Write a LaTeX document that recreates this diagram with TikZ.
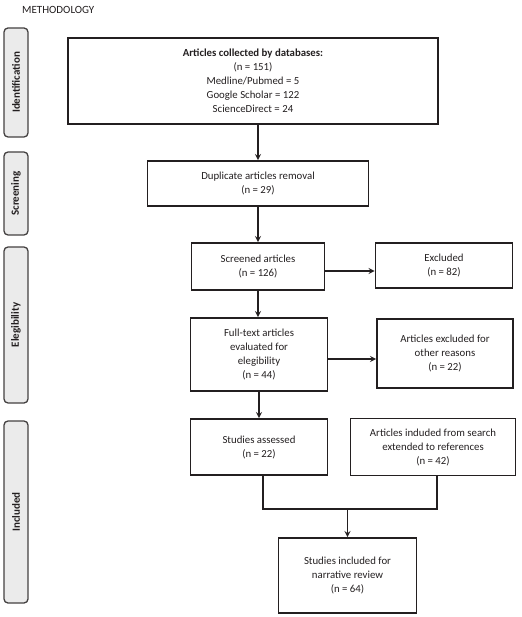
\documentclass[tikz,border=0pt]{standalone}
\usepackage{fontspec}
\setmainfont{Carlito}
\usetikzlibrary{shapes.geometric, arrows}
\definecolor{ink}{HTML}{231F20}
\definecolor{lanefill}{HTML}{EBEBEB}
\tikzstyle{lane} = [rectangle, rounded corners=4pt, rotate=90, minimum height=24pt, draw=ink!85, line width=1.3pt, fill=lanefill, font=\fontsize{11}{13}\selectfont\bfseries, text=ink]
\tikzstyle{box} = [rectangle, align=center, draw=ink, line width=1.7pt, font=\fontsize{10.8}{14}\selectfont, text=ink, inner sep=2pt]
\tikzstyle{arrow} = [line width=1.7pt, draw=ink, ->, >=stealth]
\tikzstyle{line} = [line width=1.7pt, draw=ink]

\begin{document}
\begin{tikzpicture}[node distance=88pt]
\useasboundingbox (0,0) rectangle (521pt,-617pt);
\node (title) [anchor=west, text=ink, font=\fontsize{11}{13}\selectfont, inner sep=0pt] at (22pt,-10pt) {METHODOLOGY};
% phases
\node (ident) [lane, minimum width=109pt] at (16pt,-82.5pt) {Identification};
\node (screen) [lane, minimum width=83pt] at (16pt,-193.5pt) {Screening};
\node (elig) [lane, minimum width=156pt] at (16pt,-325pt) {Elegibility};
\node (incl) [lane, minimum width=182pt] at (16pt,-512pt) {Included};
% flow
\node (start) [box, line width=2.2pt, minimum width=370pt, minimum height=86pt] at (253pt,-81pt) {\textbf{Articles collected by databases:}\\(n = 151)\\Medline/Pubmed = 5\\Google Scholar = 122\\ScienceDirect = 24};
\node (dup) [box, below of=start, node distance=102.5pt, xshift=5pt, minimum width=221pt, minimum height=45pt] {Duplicate articles removal\\(n = 29)};
\node (screened) [box, below of=dup, node distance=83pt, minimum width=133pt, minimum height=47pt] {Screened articles\\(n = 126)};
\node (excluded) [box, right of=screened, node distance=186pt, yshift=1pt, minimum width=137pt, minimum height=45pt] {Excluded\\(n = 82)};
\node (fulltext) [box, below of=screened, node distance=88pt, xshift=1pt, minimum width=137pt, minimum height=73pt] {Full-text articles\\evaluated for\\elegibility\\(n = 44)};
\node (other) [box, right of=fulltext, node distance=186pt, yshift=1pt, minimum width=136pt, minimum height=69pt] {Articles excluded for\\other reasons\\(n = 22)};
\node (assessed) [box, below of=fulltext, node distance=92.5pt, minimum width=137pt, minimum height=56pt] {Studies assessed\\(n = 22)};
\node (search) [box, right of=assessed, node distance=174pt, minimum width=165pt, minimum height=57pt] {Articles induded from search\\extended to references\\(n = 42)};
\node (included) [box, below of=assessed, node distance=128.5pt, xshift=88.5pt, minimum width=138pt, minimum height=75pt] {Studies included for\\narrative review\\(n = 64)};
\coordinate (merge) at ([yshift=28pt]included.north);
\draw [arrow] (start.south -| dup.north) -- (dup.north);
\draw [arrow] (dup.south) -- (dup.south |- screened.north);
\draw [arrow] (screened.south) -- (screened.south |- fulltext.north);
\draw [arrow] (fulltext.south) -- (fulltext.south |- assessed.north);
\draw [arrow] ([yshift=-4.5pt]screened.east) -- ([yshift=-4.5pt]screened.east -| excluded.west);
\draw [arrow] ([yshift=-4.5pt]fulltext.east) -- ([yshift=-4.5pt]fulltext.east -| other.west);
\draw [line] ([xshift=4pt]assessed.south) |- (merge) -| ([xshift=4pt]search.south);
\draw [arrow] (merge) -- (included.north);
\end{tikzpicture}
\end{document}
